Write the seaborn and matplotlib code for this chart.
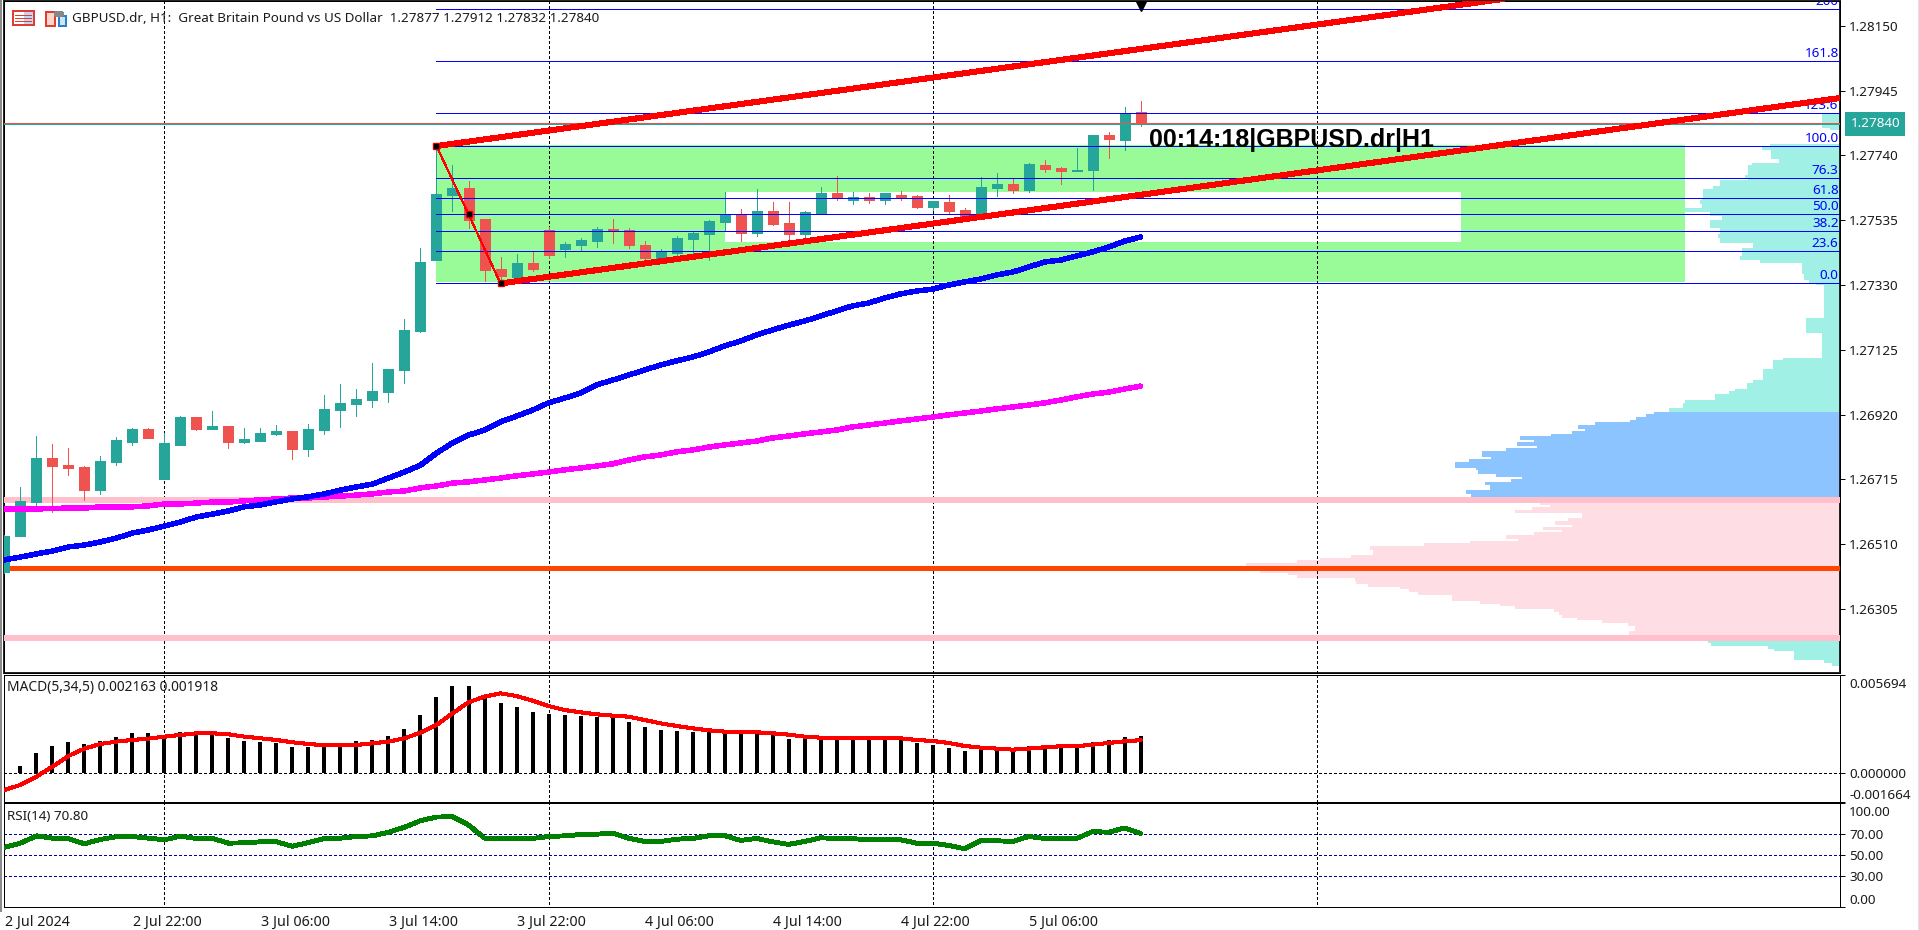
#!/usr/bin/env python
"""
GBPUSD H1 chart with moving averages, fibo levels, volume profile, MACD, RSI.
"""
# Third-party
import matplotlib

matplotlib.use("Agg")
import matplotlib.pyplot as plt
import matplotlib.transforms as mtransforms
import numpy as np
import seaborn as sns
from matplotlib.patches import Rectangle

FIG_W, FIG_H = 1919, 930

# Candles, oldest first
opens = [
    1.26422, 1.26536, 1.26644, 1.26782, 1.26760, 1.26754, 1.26681, 1.26770,
    1.26833, 1.26874, 1.26716, 1.26823, 1.26912, 1.26874, 1.26884, 1.26833,
    1.26836, 1.26859, 1.26868, 1.26811, 1.26871, 1.26934, 1.26953, 1.26966,
    1.26991, 1.27061, 1.27185, 1.27409, 1.27615, 1.27637, 1.27539, 1.27381,
    1.27356, 1.27400, 1.27504, 1.27444, 1.27457, 1.27469, 1.27507, 1.27504,
    1.27457, 1.27416, 1.27431, 1.27475, 1.27491, 1.27529, 1.27552, 1.27494,
    1.27565, 1.27526, 1.27491, 1.27558, 1.27621, 1.27599, 1.27608, 1.27599,
    1.27615, 1.27612, 1.27577, 1.27593, 1.27568, 1.27545, 1.27637, 1.27650,
    1.27631, 1.27710, 1.27700, 1.27691, 1.27694, 1.27805, 1.27789, 1.27877,
]
highs = [
    1.26539, 1.26691, 1.26852, 1.26827, 1.26814, 1.26757, 1.26789, 1.26849,
    1.26877, 1.26877, 1.26862, 1.26915, 1.26912, 1.26931, 1.26884, 1.26877,
    1.26877, 1.26887, 1.26868, 1.26890, 1.26982, 1.27017, 1.27001, 1.27083,
    1.27064, 1.27223, 1.27447, 1.27773, 1.27710, 1.27659, 1.27539, 1.27419,
    1.27428, 1.27435, 1.27514, 1.27466, 1.27479, 1.27514, 1.27539, 1.27510,
    1.27469, 1.27444, 1.27485, 1.27501, 1.27535, 1.27624, 1.27571, 1.27634,
    1.27593, 1.27593, 1.27565, 1.27640, 1.27675, 1.27624, 1.27621, 1.27621,
    1.27627, 1.27615, 1.27596, 1.27615, 1.27574, 1.27672, 1.27685, 1.27666,
    1.27716, 1.27726, 1.27703, 1.27764, 1.27805, 1.27815, 1.27893, 1.27912,
]
lows = [
    1.26420, 1.26536, 1.26634, 1.26612, 1.26729, 1.26650, 1.26669, 1.26760,
    1.26823, 1.26846, 1.26716, 1.26823, 1.26871, 1.26874, 1.26814, 1.26830,
    1.26836, 1.26855, 1.26779, 1.26789, 1.26859, 1.26881, 1.26915, 1.26944,
    1.26960, 1.27020, 1.27181, 1.27409, 1.27565, 1.27510, 1.27343, 1.27330,
    1.27356, 1.27374, 1.27416, 1.27419, 1.27438, 1.27450, 1.27463, 1.27447,
    1.27406, 1.27416, 1.27406, 1.27425, 1.27409, 1.27504, 1.27469, 1.27485,
    1.27520, 1.27466, 1.27469, 1.27555, 1.27599, 1.27586, 1.27589, 1.27586,
    1.27599, 1.27574, 1.27568, 1.27555, 1.27535, 1.27545, 1.27612, 1.27621,
    1.27624, 1.27688, 1.27650, 1.27691, 1.27631, 1.27732, 1.27757, 1.27832,
]
closes = [
    1.26536, 1.26647, 1.26782, 1.26757, 1.26751, 1.26681, 1.26773, 1.26839,
    1.26874, 1.26846, 1.26830, 1.26912, 1.26874, 1.26884, 1.26833, 1.26842,
    1.26862, 1.26868, 1.26811, 1.26874, 1.26938, 1.26957, 1.26969, 1.26994,
    1.27064, 1.27188, 1.27403, 1.27618, 1.27637, 1.27535, 1.27377, 1.27359,
    1.27400, 1.27381, 1.27425, 1.27460, 1.27472, 1.27507, 1.27501, 1.27457,
    1.27416, 1.27438, 1.27479, 1.27494, 1.27532, 1.27555, 1.27494, 1.27565,
    1.27523, 1.27491, 1.27561, 1.27621, 1.27605, 1.27608, 1.27599, 1.27621,
    1.27608, 1.27577, 1.27596, 1.27565, 1.27545, 1.27640, 1.27650, 1.27631,
    1.27713, 1.27697, 1.27691, 1.27694, 1.27805, 1.27792, 1.27871, 1.27840,
]

# Moving averages
ma_fast = [
    1.26460, 1.26469, 1.26479, 1.26488, 1.26501, 1.26507, 1.26517, 1.26529,
    1.26545, 1.26555, 1.26567, 1.26580, 1.26596, 1.26605, 1.26615, 1.26628,
    1.26634, 1.26644, 1.26653, 1.26660, 1.26669, 1.26681, 1.26691, 1.26700,
    1.26719, 1.26738, 1.26760, 1.26798, 1.26830, 1.26855, 1.26871, 1.26897,
    1.26915, 1.26934, 1.26957, 1.26972, 1.26988, 1.27014, 1.27029, 1.27045,
    1.27061, 1.27077, 1.27090, 1.27102, 1.27118, 1.27137, 1.27153, 1.27172,
    1.27188, 1.27203, 1.27216, 1.27232, 1.27248, 1.27264, 1.27273, 1.27289,
    1.27302, 1.27311, 1.27317, 1.27330, 1.27340, 1.27349, 1.27362, 1.27371,
    1.27387, 1.27403, 1.27409, 1.27422, 1.27435, 1.27450, 1.27469, 1.27482,
]
ma_slow = [
    1.26621, 1.26621, 1.26621, 1.26623, 1.26624, 1.26624, 1.26628, 1.26628,
    1.26628, 1.26631, 1.26637, 1.26637, 1.26640, 1.26643, 1.26643, 1.26647,
    1.26650, 1.26653, 1.26656, 1.26656, 1.26659, 1.26662, 1.26665, 1.26669,
    1.26675, 1.26678, 1.26688, 1.26694, 1.26703, 1.26707, 1.26713, 1.26719,
    1.26726, 1.26732, 1.26738, 1.26745, 1.26751, 1.26757, 1.26764, 1.26776,
    1.26786, 1.26792, 1.26802, 1.26808, 1.26817, 1.26824, 1.26830, 1.26836,
    1.26846, 1.26852, 1.26859, 1.26865, 1.26871, 1.26881, 1.26887, 1.26893,
    1.26900, 1.26906, 1.26912, 1.26919, 1.26925, 1.26931, 1.26938, 1.26944,
    1.26950, 1.26957, 1.26966, 1.26976, 1.26985, 1.26991, 1.27001, 1.27010,
]

# MACD histogram and signal
macd_hist = [
    0.00004, 0.000425, 0.001177, 0.001583, 0.001814, 0.001698, 0.001872,
    0.002104, 0.002335, 0.002335, 0.00222, 0.002393, 0.002277, 0.002277,
    0.002046, 0.001872, 0.001814, 0.001756, 0.001525, 0.001525, 0.00164,
    0.001756, 0.001872, 0.00193, 0.002162, 0.002567, 0.003378, 0.00442,
    0.005057, 0.005057, 0.004478, 0.004072, 0.003841, 0.003551, 0.003435,
    0.003378, 0.00332, 0.003262, 0.003204, 0.002972, 0.002683, 0.002509,
    0.002451, 0.002393, 0.002393, 0.002335, 0.002335, 0.002335, 0.002277,
    0.001988, 0.001988, 0.002046, 0.002046, 0.001988, 0.002046, 0.002046,
    0.001988, 0.001756, 0.00164, 0.001467, 0.001293, 0.001467, 0.001409,
    0.001351, 0.001583, 0.00164, 0.001583, 0.001583, 0.001814, 0.00193,
    0.00210, 0.002163,
]
macd_signal = [
    -0.000965, -0.000676, -0.000193, 0.000386, 0.001004, 0.001428, 0.001698,
    0.001834, 0.00193, 0.002007, 0.002123, 0.00222, 0.002316, 0.002316,
    0.002258, 0.002123, 0.002027, 0.00193, 0.001795, 0.001698, 0.001621,
    0.001621, 0.00164, 0.001737, 0.001834, 0.002027, 0.002355, 0.002799,
    0.003474, 0.004111, 0.004439, 0.004632, 0.004478, 0.004207, 0.003899,
    0.003667, 0.003532, 0.003416, 0.003339, 0.003281, 0.003088, 0.002895,
    0.002741, 0.002606, 0.00249, 0.002413, 0.002374, 0.002374, 0.002316,
    0.002239, 0.002123, 0.002065, 0.002046, 0.002027, 0.002065, 0.002065,
    0.002027, 0.00193, 0.001872, 0.001756, 0.001583, 0.001486, 0.001428,
    0.00137, 0.001428, 0.001505, 0.001563, 0.001563, 0.00166, 0.001756,
    0.001853, 0.001918,
]

# RSI(14)
rsi = [
    57.3, 61.4, 68.4, 66.2, 65.6, 60.8, 65.0, 67.5, 67.8, 66.2, 64.6, 68.1,
    65.9, 65.9, 61.4, 61.7, 62.7, 62.7, 58.3, 62.1, 65.9, 66.2, 67.8, 68.4,
    71.9, 76.7, 83.0, 86.5, 86.8, 78.9, 66.2, 65.9, 65.9, 65.9, 67.8, 68.4,
    69.7, 70.0, 71.0, 66.2, 63.0, 63.0, 65.2, 65.9, 68.4, 68.7, 64.0, 65.9,
    62.7, 60.2, 63.0, 66.5, 65.9, 65.6, 64.9, 64.9, 64.6, 61.4, 61.4, 59.2,
    56.0, 63.7, 63.7, 63.0, 67.8, 65.9, 65.9, 65.9, 72.5, 71.9, 76.0, 70.8,
]

# Volume profile, edges from the top down; one volume per pair of edges
profile_upper_edges = [
    1.27874, 1.27827, 1.27821, 1.27776, 1.27767, 1.27757, 1.27729, 1.27716,
    1.27710, 1.27678, 1.27669, 1.27662, 1.27643, 1.27634, 1.27605, 1.27599,
    1.27586, 1.27574, 1.27561, 1.27548, 1.27536, 1.27510, 1.27491, 1.27479,
    1.27463, 1.27447, 1.27422, 1.27409, 1.27400, 1.27365, 1.27346, 1.27333,
    1.27330, 1.27226, 1.27178, 1.27099, 1.27093, 1.27064, 1.27029, 1.27020,
    1.27001, 1.26995, 1.26985, 1.26966, 1.26957, 1.26941, 1.26928,
]
profile_upper_volumes = [
    18, 10, 0, 70, 78, 69, 61, 88, 92, 95, 92, 120, 127, 137, 138, 140, 138,
    155, 130, 118, 130, 120, 122, 120, 87, 98, 100, 80, 38, 36, 31, 24, 16,
    34, 18, 57, 67, 77, 87, 93, 105, 111, 125, 155, 157, 171,
]
profile_blue_edges = [
    1.26928, 1.26922, 1.26912, 1.26903, 1.26897, 1.26887, 1.26874, 1.26868,
    1.26859, 1.26852, 1.26840, 1.26833, 1.26821, 1.26814, 1.26805, 1.26786,
    1.26779, 1.26770, 1.26751, 1.26745, 1.26732, 1.26722, 1.26716, 1.26707,
    1.26697, 1.26681, 1.26669, 1.26660, 1.26650,
]
profile_blue_volumes = [
    186, 194, 204, 210, 245, 262, 255, 268, 289, 320, 306, 323, 303, 334,
    358, 349, 371, 385, 364, 362, 344, 318, 329, 355, 350, 374, 369, 345,
]
profile_pink_edges = [
    1.26650, 1.26634, 1.26628, 1.26618, 1.26609, 1.26593, 1.26583, 1.26571,
    1.26564, 1.26555, 1.26548, 1.26539, 1.26526, 1.26520, 1.26514, 1.26504,
    1.26491, 1.26476, 1.26466, 1.26460, 1.26450, 1.26438, 1.26428, 1.26419,
    1.26412, 1.26403, 1.26393, 1.26384, 1.26374, 1.26368, 1.26359, 1.26349,
    1.26330, 1.26321, 1.26314, 1.26305, 1.26295, 1.26286, 1.26276, 1.26270,
    1.26260, 1.26251, 1.26235, 1.26223, 1.26219, 1.26207,
]
profile_pink_volumes = [
    300, 290, 308, 325, 258, 272, 285, 268, 297, 278, 306, 334, 322, 370,
    416, 470, 467, 489, 520, 543, 594, 594, 580, 552, 543, 485, 484, 472,
    440, 431, 422, 388, 360, 340, 325, 286, 281, 278, 263, 238, 212, 205,
    211, 198, 172,
]
profile_lower_edges = [
    1.26207, 1.26197, 1.26188, 1.26178, 1.26172, 1.26143, 1.26134, 1.26124,
]
profile_lower_volumes = [132, 129, 72, 66, 46, 16, 8]

# Fibonacci retracement
fib_labels = [
    "200", "161.8", "123.6", "100.0", "76.3", "61.8", "50.0", "38.2", "23.6",
    "0.0",
]
fib_prices = [
    1.28203, 1.28038, 1.27873, 1.27769, 1.27668, 1.27605, 1.27554, 1.27500,
    1.27437, 1.27335,
]
fib_anchor_bars = [27, 29, 31]
fib_anchor_prices = [1.27770, 1.27554, 1.27335]

# Channel lines
channel_upper_bars = [27, 95]
channel_upper_prices = [1.27770, 1.28245]
channel_lower_bars = [31, 114.7]
channel_lower_prices = [1.27335, 1.27922]

# Zones and level lines
green_zone_bars = [27, 105]
green_zone_prices = [1.27773, 1.27340]
white_zone_bars = [45, 91]
white_zone_prices = [1.27624, 1.27466]
pink_levels = [1.26650, 1.26214]
orange_level = 1.26434
bid_price = 1.27840

# Axes ticks
price_ticks = [
    1.28150, 1.27945, 1.27740, 1.27535, 1.27330, 1.27125, 1.26920, 1.26715,
    1.26510, 1.26305,
]
macd_ticks = [0.005694, 0.0, -0.001664]
rsi_levels = [70, 50, 30]
rsi_ticks = [100, 70, 50, 30, 0]
grid_bars = [10, 34, 58, 82]
time_tick_bars = [0, 8, 16, 24, 32, 40, 48, 56, 64]
time_tick_labels = [
    "2 Jul 2024", "2 Jul 22:00", "3 Jul 06:00", "3 Jul 14:00", "3 Jul 22:00",
    "4 Jul 06:00", "4 Jul 14:00", "4 Jul 22:00", "5 Jul 06:00",
]

BAR_LIM = (-0.025, 114.7)
PRICE_LIM = (1.26102, 1.28229)
COL_UP = "#26a69a"
COL_DOWN = "#ef5350"
COL_FIB = "#0000ff"
TXT = "#1a1a1a"
FONT_SIZE = 9.7
THIN = 0.7


def px_axes(fig, x0, y0, x1, y1):
    """Axes placed with screen pixels, y counted from the top."""
    return fig.add_axes(
        [x0 / FIG_W, 1 - y1 / FIG_H, (x1 - x0) / FIG_W, (y1 - y0) / FIG_H]
    )


def px_rect(fig, x0, y0, x1, y1, **kwargs):
    """Figure level rectangle in screen pixels."""
    fig.add_artist(
        Rectangle(
            (x0 / FIG_W, 1 - y1 / FIG_H),
            (x1 - x0) / FIG_W,
            (y1 - y0) / FIG_H,
            transform=fig.transFigure,
            **kwargs,
        )
    )


def px_text(fig, x, y, text, **kwargs):
    fig.text(x / FIG_W, 1 - y / FIG_H, text, va="center", **kwargs)


def nudge_label(fig, label, dx_px, dy_px):
    """Shift one tick label by a few screen pixels."""
    shift = mtransforms.ScaledTranslation(
        dx_px / 100, dy_px / 100, fig.dpi_scale_trans
    )
    label.set_transform(label.get_transform() + shift)


def style_panel(ax):
    ax.set_xlim(*BAR_LIM)
    ax.xaxis.set_visible(False)
    ax.yaxis.tick_right()
    ax.tick_params(
        axis="y", length=3.6, width=THIN, pad=3, labelsize=FONT_SIZE,
        colors="black", labelcolor=TXT,
    )
    for spine in ax.spines.values():
        spine.set_linewidth(THIN)
        spine.set_color("black")
    ax.grid(False)


def draw_grid(ax, y_range):
    ax.vlines(
        grid_bars, y_range[0], y_range[1], colors="black", linewidth=THIN,
        linestyles=(0, (3, 3)), zorder=2,
    )


def draw_profile(ax):
    groups = [
        (profile_upper_edges, profile_upper_volumes, "#a0f0e6"),
        (profile_blue_edges, profile_blue_volumes, "#8cc4ff"),
        (profile_pink_edges, profile_pink_volumes, "#ffdde4"),
        (profile_lower_edges, profile_lower_volumes, "#a0f0e6"),
    ]
    for edges, volumes, colour in groups:
        edges = np.array(edges)
        ax.barh(
            edges[:-1], volumes, height=np.diff(edges), align="edge",
            color=colour, linewidth=0,
        )


def draw_candles(ax, bars):
    opens_a, closes_a = np.array(opens), np.array(closes)
    colours = [COL_UP if c >= o else COL_DOWN for o, c in zip(opens, closes)]
    ax.vlines(bars, lows, highs, colors=colours, linewidth=THIN, zorder=4)
    ax.bar(
        bars, np.abs(closes_a - opens_a), bottom=np.minimum(opens_a, closes_a),
        width=10 / 16, color=colours, edgecolor=colours, linewidth=0.72,
        zorder=4,
    )


def draw_price_panel(fig, bars):
    ax = px_axes(fig, 4, 1, 1840, 673)
    style_panel(ax)
    ax.set_ylim(*PRICE_LIM)

    # Profile sits on a twin behind everything else
    vol_ax = ax.twiny()
    vol_ax.set_xlim(1836, 0)
    vol_ax.set_zorder(0)
    vol_ax.patch.set_visible(True)
    vol_ax.patch.set_facecolor("white")
    vol_ax.xaxis.set_visible(False)
    ax.set_zorder(1)
    ax.patch.set_visible(False)
    draw_profile(vol_ax)

    ax.fill_between(
        green_zone_bars, green_zone_prices[0], green_zone_prices[1],
        color="#98fb98", linewidth=0, zorder=1,
    )
    ax.fill_between(
        white_zone_bars, white_zone_prices[0], white_zone_prices[1],
        color="white", linewidth=0, zorder=1.1,
    )
    draw_grid(ax, PRICE_LIM)

    ax.hlines(pink_levels, *BAR_LIM, colors="#ffc0cb", linewidth=2.9, zorder=3)
    ax.hlines(orange_level, *BAR_LIM, colors="#ff4500", linewidth=2.2, zorder=3)

    draw_candles(ax, bars)

    ax.axhline(bid_price + 0.00002, color=COL_DOWN, linewidth=THIN, zorder=5)
    ax.axhline(bid_price - 0.00001, color=COL_UP, linewidth=THIN, zorder=5)

    sns.lineplot(
        x=bars, y=ma_slow, color="#ff00ff", linewidth=3.2, estimator=None,
        ax=ax, zorder=5, legend=False,
    )
    sns.lineplot(
        x=bars, y=ma_fast, color="#0000ff", linewidth=3.2, estimator=None,
        ax=ax, zorder=5.5, legend=False,
    )

    # Fibonacci levels with their text
    ax.hlines(
        fib_prices, fib_anchor_bars[0], BAR_LIM[1], colors=COL_FIB,
        linewidth=THIN, zorder=6,
    )
    for label, price in zip(fib_labels, fib_prices):
        ax.annotate(
            label, (BAR_LIM[1], price), xytext=(-1, 1),
            textcoords="offset points", ha="right", va="bottom",
            color=COL_FIB, fontsize=FONT_SIZE, annotation_clip=False,
            clip_on=True, zorder=6,
        )

    ax.plot(
        channel_upper_bars, channel_upper_prices, color="#ff0000",
        linewidth=3.6, zorder=7,
    )
    ax.plot(
        channel_lower_bars, channel_lower_prices, color="#ff0000",
        linewidth=3.6, zorder=7,
    )
    ax.plot(
        fib_anchor_bars, fib_anchor_prices, color="#ff0000", linewidth=0.8,
        zorder=7,
    )
    ax.plot(
        fib_anchor_bars, fib_anchor_prices, linestyle="none", marker="s",
        markersize=4.6, color="#ff0000", zorder=8,
    )
    ax.plot(
        fib_anchor_bars, fib_anchor_prices, linestyle="none", marker="s",
        markersize=2.2, color="black", zorder=9,
    )

    # Marker of the last bar at the top edge
    ax.plot(
        [71], [1.28222], linestyle="none", marker="v", markersize=11,
        color="black", zorder=9,
    )

    ax.text(
        71.5, 1.27790, "00:14:18|GBPUSD.dr|H1", fontsize=18,
        fontweight="bold", color="black", family="Liberation Sans",
        va="center", zorder=10,
    )

    ax.set_yticks(price_ticks)
    ax.set_yticklabels([f"{p:.5f}" for p in price_ticks])

    # Last price flag over the scale
    ax.annotate(
        f"{bid_price:.5f}", (1, bid_price), xycoords=("axes fraction", "data"),
        xytext=(7.5, 0), textcoords="offset points", ha="left", va="center",
        color="white", fontsize=FONT_SIZE, annotation_clip=False, zorder=11,
        bbox=dict(
            boxstyle="square,pad=0.4", facecolor=COL_UP, edgecolor="none"
        ),
    )
    return ax


def draw_macd_panel(fig, bars):
    ax = px_axes(fig, 4, 675, 1840, 802)
    draw_grid(ax, (-0.001664, 0.005694))
    ax.hlines(
        0, *BAR_LIM, colors="black", linewidth=THIN, linestyles=(0, (3, 3)),
        zorder=2,
    )
    sns.barplot(
        x=bars, y=macd_hist, native_scale=True, width=4 / 16, color="black",
        saturation=1, linewidth=0, ax=ax, zorder=3,
    )
    sns.lineplot(
        x=bars, y=macd_signal, color="#ff0000", linewidth=2.2, estimator=None,
        ax=ax, zorder=4, legend=False,
    )
    style_panel(ax)
    ax.set_ylim(-0.001664, 0.005694)
    ax.set_yticks(macd_ticks)
    ax.set_yticklabels([f"{t:.6f}" for t in macd_ticks])
    labels = ax.get_yticklabels()
    labels[0].set_va("top")
    nudge_label(fig, labels[0], 0, -3)
    labels[-1].set_va("bottom")
    return ax


def draw_rsi_panel(fig, bars):
    ax = px_axes(fig, 4, 803, 1840, 907)
    ax.vlines(
        grid_bars, 3, 100, colors="black", linewidth=THIN,
        linestyles=(0, (3, 3)), zorder=2,
    )
    ax.hlines(
        rsi_levels, *BAR_LIM, colors="#0000a0", linewidth=THIN,
        linestyles=(0, (3, 3)), zorder=2,
    )
    sns.lineplot(
        x=bars, y=rsi, color="#008000", linewidth=2.8, estimator=None, ax=ax,
        zorder=4, legend=False,
    )
    style_panel(ax)
    ax.set_ylim(0, 100)
    ax.set_yticks(rsi_ticks)
    ax.set_yticklabels([f"{t:.2f}" for t in rsi_ticks])
    labels = ax.get_yticklabels()
    labels[0].set_va("top")
    nudge_label(fig, labels[0], 0, -3)
    labels[-1].set_va("bottom")

    # Time scale lives under the last panel
    ax.xaxis.set_visible(True)
    ax.set_xticks(time_tick_bars)
    ax.set_xticklabels(time_tick_labels)
    ax.tick_params(
        axis="x", length=3.2, width=THIN, pad=2.5, labelsize=10.3,
        colors="black", labelcolor=TXT,
    )
    for label in ax.get_xticklabels():
        label.set_ha("left")
        nudge_label(fig, label, 0.5, 0)
    return ax


def draw_header(fig):
    """Window furniture and the indicator captions."""
    px_rect(fig, 0, 0, 2, FIG_H - 18, facecolor="#8c8c8c", edgecolor="none")
    px_rect(fig, 1918, 0, 1919, FIG_H, facecolor="#e4e4e4", edgecolor="none")

    # Two small toolbar icons
    px_rect(fig, 13, 11, 34, 25, facecolor="white", edgecolor="#e03c31", lw=1.4)
    px_rect(fig, 24, 12, 33, 24, facecolor="#bcd8f5", edgecolor="none")
    for y in (15, 18, 21):
        px_rect(fig, 15, y, 32, y + 1, facecolor="#e03c31", edgecolor="none")
    px_rect(fig, 46, 12, 55, 26, facecolor="#fcd5cc", edgecolor="#e03c31", lw=1.2)
    px_rect(fig, 59, 16, 66, 26, facecolor="#cfe5f7", edgecolor="#2a7fc9", lw=1.2)
    px_rect(fig, 55, 12, 62, 15, facecolor="white", edgecolor="#888888", lw=0.8)

    px_text(
        fig, 72.5, 18,
        "GBPUSD.dr, H1:  Great Britain Pound vs US Dollar  "
        "1.27877 1.27912 1.27832 1.27840",
        fontsize=9.7, color=TXT, zorder=20,
    )
    px_text(
        fig, 7, 688, "MACD(5,34,5) 0.002163 0.001918", fontsize=9.9,
        color=TXT, zorder=20,
    )
    px_text(
        fig, 7, 816, "RSI(14) 70.80", fontsize=FONT_SIZE, color=TXT, zorder=20,
    )


def main():
    sns.set_theme(style="white")
    plt.rcParams["font.family"] = ["Noto Sans", "DejaVu Sans"]
    plt.rcParams["lines.antialiased"] = False
    plt.rcParams["patch.antialiased"] = False

    bars = np.arange(len(closes))

    fig = plt.figure(figsize=(FIG_W / 100, FIG_H / 100), dpi=100)
    draw_price_panel(fig, bars)
    draw_macd_panel(fig, bars)
    draw_rsi_panel(fig, bars)
    draw_header(fig)

    fig.savefig("out.png", dpi=100, facecolor="white")


if __name__ == "__main__":
    main()
